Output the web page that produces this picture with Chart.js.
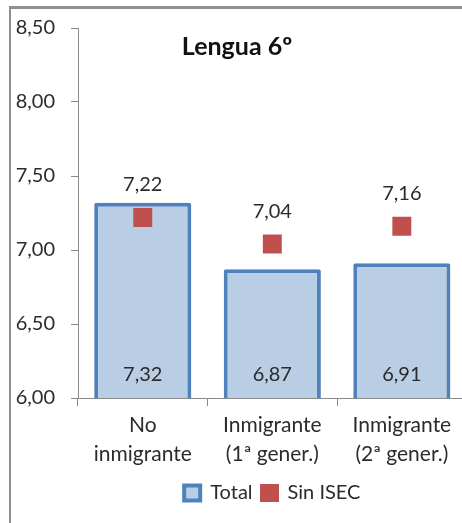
<!DOCTYPE html>
<html>
<head>
<meta charset="utf-8">
<script src="https://cdn.jsdelivr.net/npm/chart.js@4.4.1/dist/chart.umd.min.js"></script>
<style>
  html, body { margin: 0; padding: 0; background: #fff; overflow: hidden; }
  #wrap { position: relative; width: 462px; height: 523px; overflow: hidden; }
  #marco { position: absolute; left: 9px; top: 6px; width: 460px; height: 520px;
           border-top: 3px solid #8f8f8f; border-left: 2px solid #8f8f8f; pointer-events: none; }
  canvas { position: absolute; left: 0; top: 0; }
</style>
</head>
<body>
<div id="wrap">
  <canvas id="barChart" width="480" height="523"></canvas>
  <div id="marco"></div>
</div>
<script>
// datos
const categorias = [["No", "inmigrante"], ["Inmigrante", "(1ª gener.)"], ["Inmigrante", "(2ª gener.)"]];
const valoresTotal = [7.32, 6.87, 6.91];
const valoresSinIsec = [7.22, 7.04, 7.16];
const ticksY = [6.00, 6.50, 7.00, 7.50, 8.00, 8.50];
const titulo = "Lengua 6º";

const fuente = "Lato, 'Open Sans', sans-serif";
const colorTexto = "#2b2b2b";
const colorEje = "#8a8a8a";

const conComa = (v) => v.toFixed(2).replace(".", ",");

// etiquetas de valores y titulo
const etiquetas = {
    id: "etiquetas",
    afterDatasetsDraw(chart) {
        const ctx = chart.ctx;
        const yScale = chart.scales.y;
        ctx.save();
        ctx.font = "20px " + fuente;
        ctx.fillStyle = colorTexto;
        ctx.textAlign = "center";
        ctx.textBaseline = "middle";
        chart.data.datasets.forEach((ds, i) => {
            const meta = chart.getDatasetMeta(i);
            meta.data.forEach((el, j) => {
                if (ds.type === "bar") {
                    ctx.fillText(conComa(ds.data[j]), el.x, yScale.bottom - 23);
                } else {
                    ctx.fillText(conComa(ds.data[j]), el.x, el.y - 33);
                }
            });
        });
        ctx.font = "bold 25px " + fuente;
        ctx.fillStyle = "#111";
        ctx.fillText(titulo, 237, 47);
        ctx.restore();
    }
};

const barChart = () => {
    const data = {
        labels: categorias,
        datasets: [{
            type: "bar",
            label: "Total",
            data: valoresTotal,
            backgroundColor: "#B9CDE5",
            borderColor: "#4F81BD",
            borderWidth: 4,
            borderRadius: 2,
            borderSkipped: false,
            barPercentage: 0.75,
            categoryPercentage: 1,
            order: 1
        }, {
            type: "line",
            label: "Sin ISEC",
            data: valoresSinIsec,
            showLine: false,
            pointStyle: "rect",
            pointRadius: 13.4,
            pointBorderWidth: 0,
            backgroundColor: "#C0504D",
            borderColor: "#C0504D",
            pointBackgroundColor: "#C0504D",
            order: 0
        }]
    };
    const config = {
        data,
        plugins: [etiquetas],
        options: {
            responsive: false,
            animation: false,
            layout: { padding: { top: 27, right: 13, left: 0, bottom: 10 } },
            plugins: {
                tooltip: { enabled: false },
                title: { display: false },
                legend: {
                    position: "bottom",
                    fullSize: false,
                    labels: {
                        sort: (a, b) => a.datasetIndex - b.datasetIndex,
                        boxWidth: 16,
                        boxHeight: 15,
                        padding: 9,
                        color: colorTexto,
                        font: { family: fuente, size: 20 }
                    }
                }
            },
            scales: {
                x: {
                    afterFit: (scale) => { scale.height = 76; },
                    grid: { display: true, drawOnChartArea: false, offset: true, tickLength: 8, color: colorEje },
                    border: { color: colorEje, width: 1 },
                    ticks: { padding: 5, color: colorTexto, font: { family: fuente, size: 21, lineHeight: 1.38 } }
                },
                y: {
                    min: 6,
                    max: 8.5,
                    afterFit: (scale) => { scale.width = 78; },
                    afterBuildTicks: (scale) => { scale.ticks = ticksY.map(v => ({ value: v })); },
                    grid: { display: true, drawOnChartArea: false, tickLength: 7, color: colorEje },
                    border: { color: colorEje, width: 1 },
                    ticks: {
                        padding: 16,
                        color: colorTexto,
                        font: { family: fuente, size: 20 },
                        callback: (v) => conComa(v)
                    }
                }
            }
        }
    };
    new Chart(document.getElementById("barChart"), config);
};

document.addEventListener("DOMContentLoaded", () => {
    barChart();
});
</script>
</body>
</html>
